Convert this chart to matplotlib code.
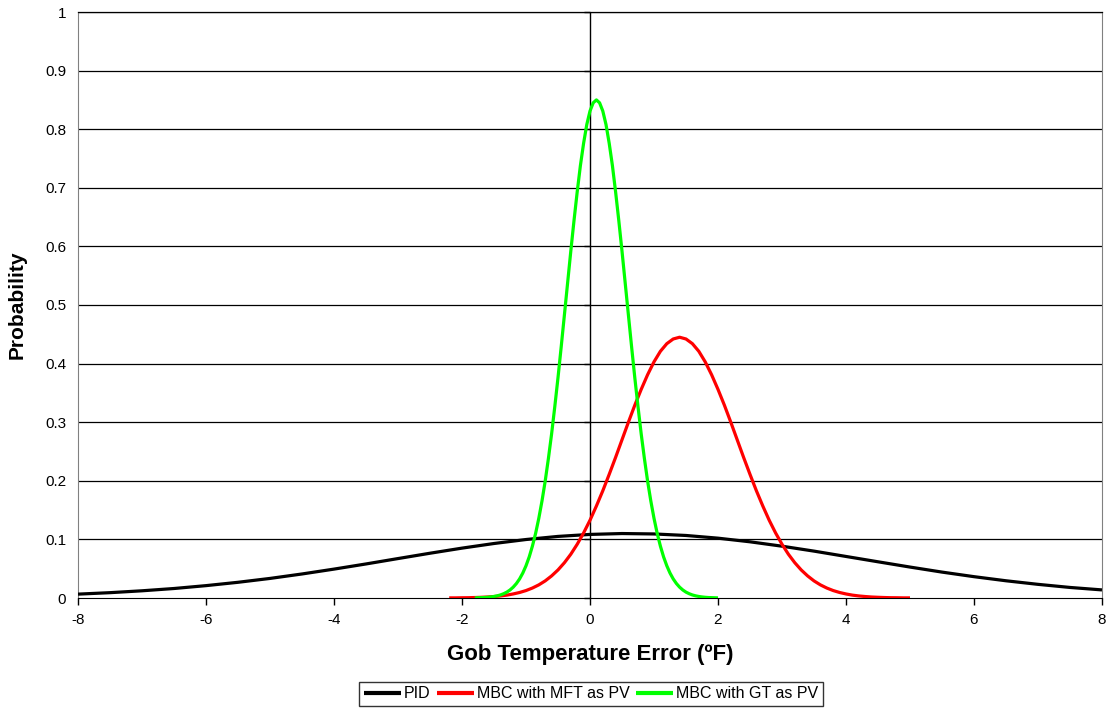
import numpy as np
import matplotlib
matplotlib.use("Agg")
import matplotlib.pyplot as plt

plt.rcParams['font.family'] = ['Liberation Sans', 'DejaVu Sans']

# error (F) vs probability
pid_x = [-8, -7.5, -7, -6.5, -6, -5.5, -5, -4.5, -4, -3.5, -3, -2.5, -2, -1.5, -1, -0.5,
         0, 0.5, 1, 1.5, 2, 2.5, 3, 3.5, 4, 4.5, 5, 5.5, 6, 6.5, 7, 7.5, 8]
pid_y = [0.0066, 0.0091, 0.0123, 0.0162, 0.0211, 0.0268, 0.0334, 0.0410, 0.0493, 0.0581,
         0.0673, 0.0764, 0.0851, 0.0930, 0.0998, 0.1051, 0.1085, 0.1100, 0.1093, 0.1067,
         0.1021, 0.0959, 0.0884, 0.0800, 0.0709, 0.0618, 0.0528, 0.0442, 0.0364, 0.0294,
         0.0233, 0.0180, 0.0138]

mft_x = [round(-2.2 + 0.1 * i, 1) for i in range(73)]
mft_y = [0.0002, 0.0002, 0.0004, 0.0005, 0.0008, 0.0012, 0.0017, 0.0025, 0.0035, 0.0049,
         0.0069, 0.0094, 0.0127, 0.0170, 0.0224, 0.0292, 0.0377, 0.0479, 0.0602, 0.0747,
         0.0917, 0.1110, 0.1327, 0.1570, 0.1830, 0.2110, 0.2400, 0.2700, 0.3000, 0.3290,
         0.3560, 0.3810, 0.4030, 0.4210, 0.4340, 0.4420, 0.4450, 0.4420, 0.4340, 0.4210,
         0.4030, 0.3810, 0.3560, 0.3290, 0.3000, 0.2700, 0.2400, 0.2110, 0.1830, 0.1570,
         0.1327, 0.1110, 0.0917, 0.0747, 0.0602, 0.0479, 0.0377, 0.0292, 0.0224, 0.0170,
         0.0127, 0.0094, 0.0069, 0.0049, 0.0035, 0.0025, 0.0017, 0.0012, 0.0008, 0.0005,
         0.0004, 0.0002, 0.0002]

gt_x = [round(-1.8 + 0.05 * i, 2) for i in range(77)]
gt_y = [0.0002, 0.0004, 0.0006, 0.0008, 0.0012, 0.0018, 0.0026, 0.0037, 0.0052, 0.0073,
        0.0100, 0.0137, 0.0185, 0.0247, 0.0326, 0.0426, 0.0550, 0.0701, 0.0885, 0.1102,
        0.1360, 0.1657, 0.1995, 0.2380, 0.2800, 0.3267, 0.3760, 0.4286, 0.4830, 0.5375,
        0.5920, 0.6440, 0.6930, 0.7380, 0.7760, 0.8080, 0.8310, 0.8450, 0.8500, 0.8450,
        0.8310, 0.8080, 0.7760, 0.7380, 0.6930, 0.6440, 0.5920, 0.5375, 0.4830, 0.4286,
        0.3760, 0.3267, 0.2800, 0.2380, 0.1995, 0.1657, 0.1360, 0.1102, 0.0885, 0.0701,
        0.0550, 0.0426, 0.0326, 0.0247, 0.0185, 0.0137, 0.0100, 0.0073, 0.0052, 0.0037,
        0.0026, 0.0018, 0.0012, 0.0008, 0.0006, 0.0004, 0.0002]

labels = ["PID", "MBC with MFT as PV", "MBC with GT as PV"]
colors = ["#000000", "#FF0000", "#00FF00"]

x_ticks = [-8, -6, -4, -2, 0, 2, 4, 6, 8]
y_ticks = [0, 0.1, 0.2, 0.3, 0.4, 0.5, 0.6, 0.7, 0.8, 0.9, 1]

fig = plt.figure(figsize=(11.1, 7.1), dpi=100)
ax = fig.add_axes([78 / 1110, 112 / 710, 1024 / 1110, 586 / 710])

for yv in y_ticks[1:]:
    ax.axhline(yv, color="black", lw=0.9, zorder=1)
ax.axvline(0, color="black", lw=1.0, zorder=1)
# small tick marks on the vertical axis at x = 0
ax.plot(np.zeros(len(y_ticks)), y_ticks, linestyle="none", marker=[(-1, 0), (0, 0)],
        markersize=9, color="black", mew=1.0, zorder=1, clip_on=False)

for xs, ys, lab, c in zip([pid_x, mft_x, gt_x], [pid_y, mft_y, gt_y], labels, colors):
    ax.plot(xs, ys, color=c, lw=2.3, label=lab, zorder=3, solid_capstyle="butt",
            solid_joinstyle="round")

ax.set_xlim(-8, 8)
ax.set_ylim(0, 1)
ax.set_xticks(x_ticks)
ax.set_xticklabels([str(v) for v in x_ticks])
ax.set_yticks(y_ticks)
ax.set_yticklabels(["0", "0.1", "0.2", "0.3", "0.4", "0.5", "0.6", "0.7", "0.8", "0.9", "1"])
ax.tick_params(axis="x", direction="out", length=5, width=1, labelsize=11, pad=6)
ax.tick_params(axis="y", length=0, labelsize=11, pad=8.5)

for s in ["left", "right"]:
    ax.spines[s].set_color("#808080")
ax.spines["bottom"].set_color("black")
ax.spines["top"].set_color("black")
ax.spines["top"].set_linewidth(0.9)

ax.set_xlabel("Gob Temperature Error (ºF)", fontsize=16, fontweight="bold", labelpad=12)
ax.set_ylabel("Probability", fontsize=15, fontweight="bold")
ax.yaxis.set_label_coords(-51 / 1024, 0.5)

ax.legend(loc="center", bbox_to_anchor=(591 / 1110, 1 - 694 / 710), bbox_transform=fig.transFigure,
          ncol=3, frameon=True, fancybox=False, edgecolor="black", fontsize=11.5,
          handlelength=2.3, handletextpad=0.2, columnspacing=0.4, borderpad=0.3,
          borderaxespad=0)
leg = ax.get_legend()
leg.get_frame().set_linewidth(1.0)
for ln in leg.get_lines():
    ln.set_linewidth(3)

fig.savefig("out.png", dpi=100)
